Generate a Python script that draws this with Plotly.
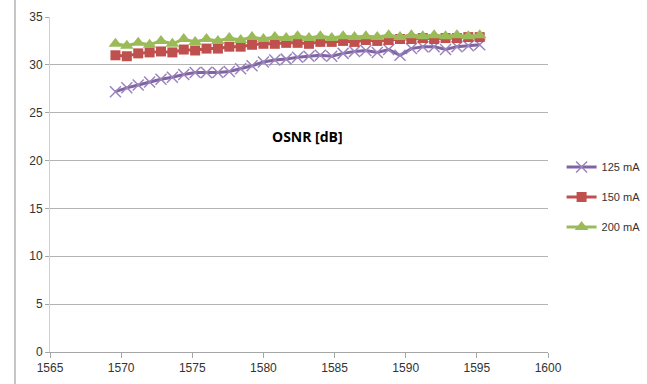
import plotly.graph_objects as go

wavelength = [1569.6, 1570.4, 1571.2, 1572.0, 1572.8, 1573.6, 1574.4, 1575.2, 1576.0, 1576.8,
              1577.6, 1578.4, 1579.2, 1580.0, 1580.8, 1581.6, 1582.4, 1583.2, 1584.0, 1584.8,
              1585.6, 1586.4, 1587.2, 1588.0, 1588.8, 1589.6, 1590.4, 1591.2, 1592.0, 1592.8,
              1593.6, 1594.4, 1595.2]

osnr_125 = [27.2, 27.6, 27.9, 28.2, 28.5, 28.7, 29.0, 29.2, 29.2, 29.2,
            29.3, 29.6, 29.9, 30.3, 30.5, 30.6, 30.8, 30.9, 31.0, 30.9,
            31.2, 31.4, 31.5, 31.3, 31.6, 31.0, 31.7, 31.9, 31.9, 31.6,
            31.9, 32.0, 32.1]

osnr_150 = [31.0, 30.9, 31.2, 31.3, 31.4, 31.3, 31.6, 31.5, 31.7, 31.7,
            31.9, 31.9, 32.1, 32.2, 32.2, 32.3, 32.3, 32.2, 32.4, 32.4,
            32.5, 32.4, 32.6, 32.5, 32.6, 32.7, 32.7, 32.8, 32.7, 32.8,
            32.8, 32.9, 32.9]

osnr_200 = [32.2, 32.0, 32.3, 32.1, 32.5, 32.2, 32.7, 32.4, 32.7, 32.5,
            32.8, 32.6, 32.9, 32.7, 32.9, 32.8, 33.0, 32.8, 33.0, 32.8,
            33.0, 32.9, 33.0, 32.9, 33.1, 32.9, 33.1, 33.0, 33.1, 33.0,
            33.1, 33.0, 33.1]

series_names = ["125 mA", "150 mA", "200 mA"]
x_ticks = [1565, 1570, 1575, 1580, 1585, 1590, 1595, 1600]
y_ticks = [0, 5, 10, 15, 20, 25, 30, 35]

FONT = "Liberation Sans, Arial, sans-serif"

fig = go.Figure()
fig.add_trace(go.Scatter(
    x=wavelength, y=osnr_125, name=series_names[0], mode="lines+markers",
    legendgroup="a",
    line=dict(color="#8064A2", width=3),
    marker=dict(symbol="x-thin", size=11, line=dict(color="#9a84bd", width=1.5), color="#8064A2"),
))
fig.add_trace(go.Scatter(
    x=wavelength, y=osnr_150, name=series_names[1], mode="lines+markers",
    legendgroup="b",
    line=dict(color="#C0504D", width=3),
    marker=dict(symbol="square", size=10, color="#C0504D"),
))
fig.add_trace(go.Scatter(
    x=wavelength, y=osnr_200, name=series_names[2], mode="lines+markers",
    legendgroup="c",
    line=dict(color="#9BBB59", width=3),
    marker=dict(symbol="triangle-up", size=12, color="#9BBB59"),
))

fig.add_annotation(
    x=1583.1, y=22.5, xref="x", yref="y", text="<b>OSNR [dB]</b>", showarrow=False,
    font=dict(family="Open Sans, sans-serif", size=14, color="#000000"),
)

fig.add_shape(type="line", xref="paper", yref="paper", x0=-0.0703, x1=-0.0703,
              y0=-0.1, y1=1.06, line=dict(color="#8c8c8c", width=1))

fig.update_layout(
    width=647, height=384,
    margin=dict(l=50, r=99, t=17, b=32, autoexpand=False),
    paper_bgcolor="white", plot_bgcolor="white",
    font=dict(family=FONT, size=12, color="#333333"),
    showlegend=True,
    legend=dict(
        xref="container", yref="container",
        x=0.868, y=0.487, xanchor="left", yanchor="middle",
        font=dict(family=FONT, size=11, color="#333333"),
        tracegroupgap=11, traceorder="grouped",
        bgcolor="rgba(0,0,0,0)", itemwidth=30,
    ),
    xaxis=dict(
        range=[1565, 1600], tickvals=x_ticks, ticktext=[str(v) for v in x_ticks],
        showgrid=False, zeroline=False, showline=True, linecolor="#a6a6a6", linewidth=1,
        ticks="outside", ticklen=5, tickcolor="#a6a6a6", automargin=False,
    ),
    yaxis=dict(
        range=[0, 35], tickvals=y_ticks, ticktext=[str(v) for v in y_ticks],
        showgrid=True, gridcolor="#b3b3b3", gridwidth=1, zeroline=False,
        showline=True, linecolor="#d0d0d0", linewidth=1,
        ticks="outside", ticklen=4, tickcolor="#a6a6a6", automargin=False,
    ),
)

fig.write_html("out.html")
